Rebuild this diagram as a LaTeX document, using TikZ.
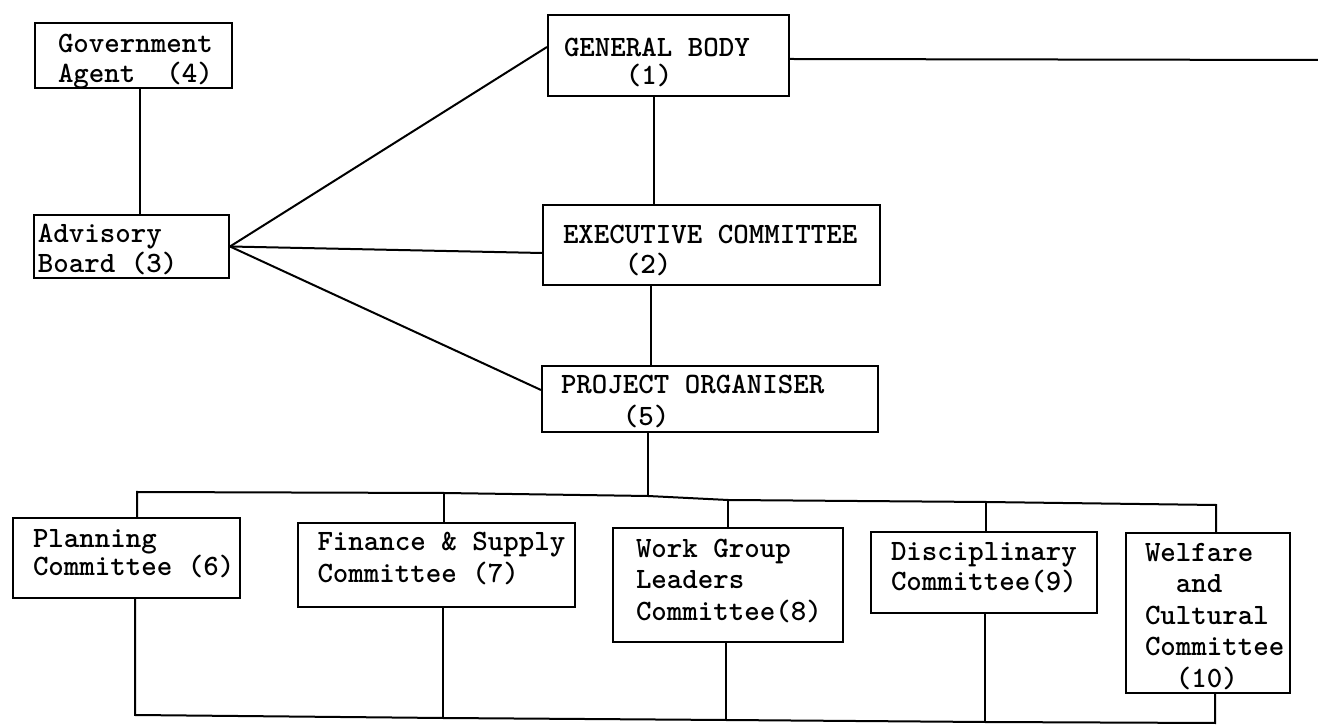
\documentclass[tikz,border=0pt]{standalone}
\usetikzlibrary{calc}
\tikzset{
  box/.style={draw, rectangle, inner sep=0pt, line width=1pt},
  txt/.style={inner sep=0pt, anchor=north west, align=left,
    font=\ttfamily\bfseries\fontsize{14.75pt}{#1}\selectfont},
  txt/.default=15pt}
\begin{document}
\lineskiplimit=-16000pt
\begin{tikzpicture}[x=0.5pt,y=-0.5pt, line width=1pt]
\useasboundingbox (0,0) rectangle (1318,726);

% boxes
\node[box, minimum width=98.5pt,  minimum height=32.5pt] (gov)  at (133.5,55.5) {};
\node[box, minimum width=97.5pt,  minimum height=31.5pt] (adv)  at (131.5,246.5) {};
\node[box, minimum width=120.5pt, minimum height=40.5pt] (gb)   at (668.5,56) {};
\node[box, minimum width=168.5pt, minimum height=40pt]   (ec)   at (711.5,245) {};
\node[box, minimum width=168pt,   minimum height=33pt]   (po)   at (710,399) {};
\node[box, minimum width=113.5pt, minimum height=40pt]   (plan) at (126.5,558) {};
\node[box, minimum width=138.5pt, minimum height=42pt]   (fin)  at (436,565) {};
\node[box, minimum width=115pt,   minimum height=57pt]   (wg)   at (728,585) {};
\node[box, minimum width=113pt,   minimum height=40.5pt] (disc) at (984,572.5) {};
\node[box, minimum width=82pt,    minimum height=80pt]   (welf) at (1208,613) {};

% texts
\node[txt=15pt]    (govt)  at (57,33)    {Government\\Agent\phantom{00}(4)};
\node[txt=15pt]    (advt)  at (37,223)   {Advisory\\Board (3)};
\node[txt=14pt]    (gbt)   at (563,37)   {GENERAL BODY\\\phantom{0000}(1)};
\node[txt=15pt]    (ect)   at (562,224)  {EXECUTIVE COMMITTEE\\\phantom{0000}(2)};
\node[txt=16pt]    (pot)   at (560,374)  {PROJECT ORGANISER\\\phantom{0000}(5)};
\node[txt=14pt]    (plant) at (32,528)   {Planning\\Committee (6)};
\node[txt=16pt]    (fint)  at (316.5,531){Finance \& Supply\\Committee (7)};
\node[txt=15.75pt] (wgt)   at (635,538)  {Work Group\\Leaders\\Committee(8)};
\node[txt=15pt]    (disct) at (890,541)  {Disciplinary\\Committee(9)};
\node[txt=15.75pt] (welft) at (1144,542) {Welfare\\\phantom{00}and\\Cultural\\Committee\\\phantom{00}(10)};

% connectors, upper part
\coordinate (ga) at (140,0);
\draw (gov.south -| ga) -- (adv.north -| ga);
\draw (adv.east) -- ([yshift=4.5pt]gb.west);
\draw (adv.east) -- ([yshift=-4pt]ec.west);
\draw (adv.east) -- ([yshift=4.5pt]po.west);
\coordinate (gbend) at (1318,60);
\draw ([yshift=-1.5pt]gb.east) -- (gbend);
\coordinate (v1) at (654,0);
\draw (gb.south -| v1) -- (ec.north -| v1);
\coordinate (v2) at (651,0);
\draw (ec.south -| v2) -- (po.north -| v2);

% top bus
\coordinate (b6)  at (137,492);
\coordinate (b7)  at (444,493);
\coordinate (b5)  at (648,496);
\coordinate (b8)  at (728,500);
\coordinate (b9)  at (986,502);
\coordinate (b10) at (1216,505);
\draw (po.south -| b5) -- (b5);
\draw (plan.north -| b6) -- (b6) -- (b7) -- (b5) -- (b8) -- (b9) -- (b10) -- (welf.north -| b10);
\draw (b7) -- (fin.north -| b7);
\draw (b8) -- (wg.north -| b8);
\draw (b9) -- (disc.north -| b9);

% bottom bus
\coordinate (c6)  at (135,715);
\coordinate (c7)  at (443,718);
\coordinate (c8)  at (726,720);
\coordinate (c9)  at (985,722);
\coordinate (c10) at (1215,723);
\draw (plan.south -| c6) -- (c6) -- (c7) -- (c8) -- (c9) -- (c10) -- (welf.south -| c10);
\draw (fin.south -| c7) -- (c7);
\draw (wg.south -| c8) -- (c8);
\draw (disc.south -| c9) -- (c9);
\end{tikzpicture}
\end{document}
